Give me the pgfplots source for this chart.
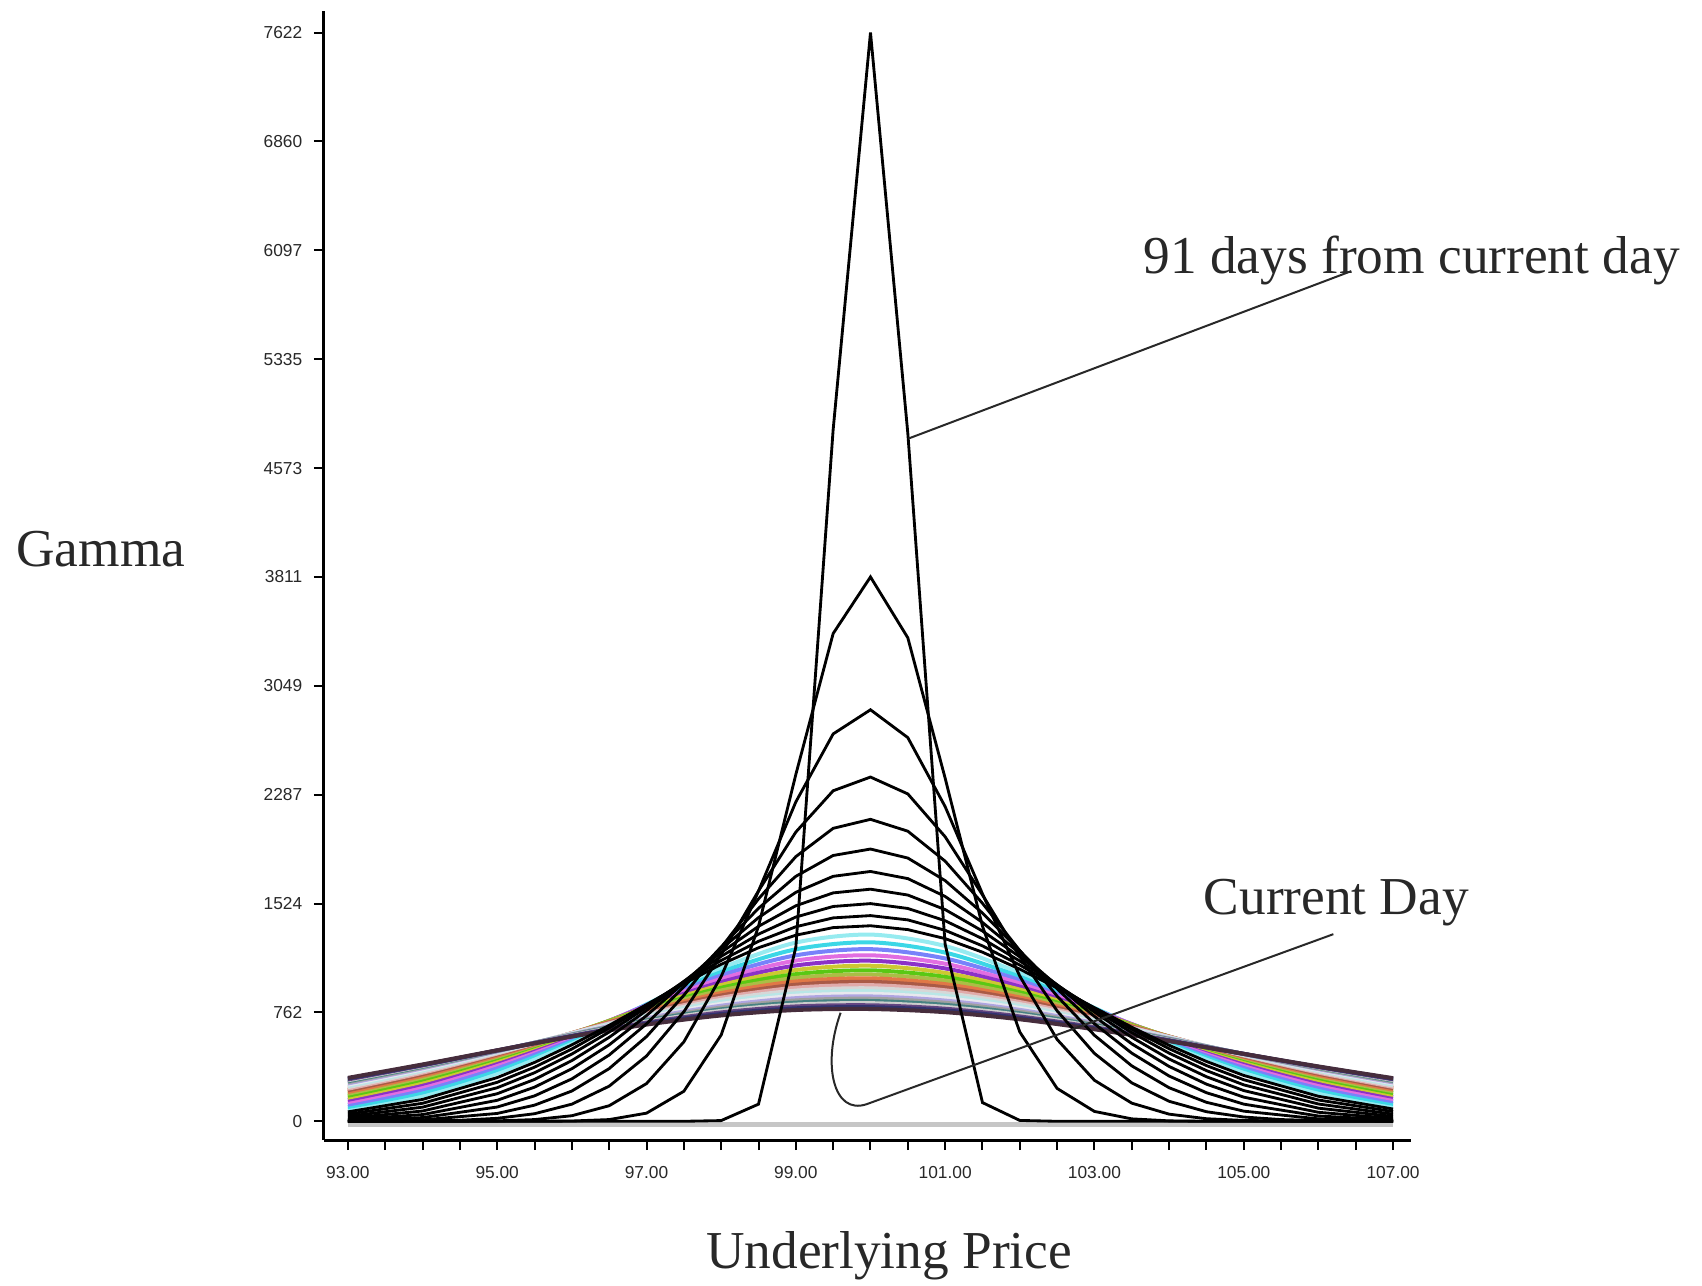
\documentclass[border=0pt]{standalone}
\usepackage{fontspec}
\setmainfont{Liberation Serif}
\newfontfamily\tickfont{Liberation Sans}
\usepackage{pgfplots}
\usepackage{pgfplotstable}
\pgfplotsset{compat=1.18}

\definecolor{c34}{RGB}{150,235,240}
\definecolor{c37}{RGB}{60,215,230}
\definecolor{c40}{RGB}{120,130,250}
\definecolor{c43}{RGB}{225,110,225}
\definecolor{c46}{RGB}{140,50,200}
\definecolor{c49}{RGB}{205,200,50}
\definecolor{c52}{RGB}{90,200,20}
\definecolor{c55}{RGB}{170,190,70}
\definecolor{c58}{RGB}{225,120,70}
\definecolor{c61}{RGB}{170,90,70}
\definecolor{c64}{RGB}{225,170,170}
\definecolor{c67}{RGB}{215,215,215}
\definecolor{c70}{RGB}{185,230,230}
\definecolor{c73}{RGB}{232,232,238}
\definecolor{c76}{RGB}{175,165,225}
\definecolor{c79}{RGB}{160,160,160}
\definecolor{c82}{RGB}{70,130,130}
\definecolor{c85}{RGB}{205,205,205}
\definecolor{c88}{RGB}{100,70,130}
\definecolor{c91}{RGB}{50,50,110}
\definecolor{c94}{RGB}{70,45,60}
\definecolor{txt}{RGB}{40,40,40}

\pgfplotstableread{
x T34 T37 T40 T43 T46 T49 T52 T55 T58 T61 T64 T67 T70 T73 T76 T79 T82 T85 T88 T91 T94
93 83 100 117 134 150 165 179 193 205 217 228 239 248 257 265 273 280 287 293 299 304
94 178 202 224 244 262 278 293 307 319 330 340 349 357 364 371 377 382 387 391 394 398
95 335 360 382 401 417 430 442 452 460 468 474 479 483 486 489 492 493 495 496 496 497
96 557 574 587 597 604 610 614 616 617 617 617 616 615 613 610 608 605 602 599 596 593
97 819 817 814 808 802 795 787 779 771 762 754 746 737 729 721 713 706 698 691 684 677
98 1071 1045 1021 997 975 954 935 916 898 881 865 850 836 822 809 796 784 773 762 751 741
99 1251 1204 1162 1125 1091 1059 1030 1004 979 956 935 915 896 879 862 846 831 817 804 791 779
100 1307 1253 1205 1162 1124 1089 1057 1028 1001 976 953 931 911 892 874 858 842 827 812 799 786
101 1227 1181 1140 1103 1070 1039 1011 985 960 938 917 897 879 862 845 830 815 801 788 776 764
102 1038 1012 988 965 943 922 903 885 867 851 835 820 806 793 780 768 756 745 734 724 714
103 794 791 785 779 771 764 755 747 738 730 721 713 704 696 688 680 673 665 658 651 644
104 551 564 574 582 587 590 592 593 593 592 591 589 587 584 581 578 575 571 568 564 561
105 347 369 387 403 416 427 437 444 451 456 460 464 466 469 470 471 472 472 472 472 472
106 199 222 242 260 276 290 303 314 324 333 341 348 355 360 365 369 373 376 379 382 384
107 105 122 140 156 171 185 198 210 222 232 241 250 258 266 272 278 284 289 294 298 302
}\colored

\begin{document}
\begin{tikzpicture}
\begin{axis}[
  at={(0,0)}, anchor=south west,
  scale only axis, width=326.1pt, height=338.7pt,
  xmin=92.68, xmax=107.24, ymin=-131, ymax=7773,
  axis lines=left,
  axis line style={-, line width=0.9pt, black},
  xtick={93,95,97,99,101,103,105,107},
  xticklabels={93.00,95.00,97.00,99.00,101.00,103.00,105.00,107.00},
  minor x tick num=3,
  ytick={0,762,1524,2287,3049,3811,4573,5335,6097,6860,7622},
  yticklabels={0,762,1524,2287,3049,3811,4573,5335,6097,6860,7622},
  tick align=outside,
  major tick length=3pt, minor tick length=3pt,
  every tick/.style={black, line width=0.6pt},
  ticklabel style={font=\tickfont\fontsize{5.2}{6}\selectfont, text=txt},
  xticklabel style={yshift=-1.5pt},
  clip=false,
]
\addplot[gray!45, line width=1.4pt] coordinates {(93,-22) (107,-22)};

\addplot[c34, line width=1.2pt, smooth] table[x=x, y=T34] {\colored};
\addplot[c37, line width=1.2pt, smooth] table[x=x, y=T37] {\colored};
\addplot[c40, line width=1.2pt, smooth] table[x=x, y=T40] {\colored};
\addplot[c43, line width=1.2pt, smooth] table[x=x, y=T43] {\colored};
\addplot[c46, line width=1.2pt, smooth] table[x=x, y=T46] {\colored};
\addplot[c49, line width=1.2pt, smooth] table[x=x, y=T49] {\colored};
\addplot[c52, line width=1.2pt, smooth] table[x=x, y=T52] {\colored};
\addplot[c55, line width=1.2pt, smooth] table[x=x, y=T55] {\colored};
\addplot[c58, line width=1.2pt, smooth] table[x=x, y=T58] {\colored};
\addplot[c61, line width=1.2pt, smooth] table[x=x, y=T61] {\colored};
\addplot[c64, line width=1.2pt, smooth] table[x=x, y=T64] {\colored};
\addplot[c67, line width=1.2pt, smooth] table[x=x, y=T67] {\colored};
\addplot[c70, line width=1.2pt, smooth] table[x=x, y=T70] {\colored};
\addplot[c73, line width=1.2pt, smooth] table[x=x, y=T73] {\colored};
\addplot[c76, line width=1.2pt, smooth] table[x=x, y=T76] {\colored};
\addplot[c79, line width=1.2pt, smooth] table[x=x, y=T79] {\colored};
\addplot[c82, line width=1.2pt, smooth] table[x=x, y=T82] {\colored};
\addplot[c85, line width=1.2pt, smooth] table[x=x, y=T85] {\colored};
\addplot[c88, line width=1.2pt, smooth] table[x=x, y=T88] {\colored};
\addplot[c91, line width=1.2pt, smooth] table[x=x, y=T91] {\colored};
\addplot[c94, line width=1.2pt, smooth] table[x=x, y=T94] {\colored};

% black curves (near expiry)
\addplot[black, line width=0.85pt] coordinates {(93,66) (94,153) (95,306) (95.5,412) (96,535) (96.5,672) (97,817) (97.5,963) (98,1099) (98.5,1215) (99,1303) (99.5,1356) (100,1369) (100.5,1342) (101,1279) (101.5,1184) (102,1065) (102.5,933) (103,795) (103.5,659) (104,532) (104.5,419) (105,321) (106,175) (107,86)};
\addplot[black, line width=0.85pt] coordinates {(93,50) (94,126) (95,273) (95.5,379) (96,506) (96.5,653) (97,811) (97.5,973) (98,1126) (98.5,1260) (99,1362) (99.5,1424) (100,1440) (100.5,1410) (101,1337) (101.5,1228) (102,1094) (102.5,944) (103,791) (103.5,644) (104,508) (104.5,390) (105,291) (106,149) (107,68)};
\addplot[black, line width=0.85pt] coordinates {(93,35) (94,99) (95,235) (95.5,340) (96,471) (96.5,625) (97,798) (97.5,979) (98,1155) (98.5,1310) (99,1430) (99.5,1504) (100,1524) (100.5,1490) (101,1404) (101.5,1278) (102,1122) (102.5,953) (103,782) (103.5,621) (104,477) (104.5,355) (105,255) (106,121) (107,50)};
\addplot[black, line width=0.85pt] coordinates {(93,22) (94,72) (95,193) (95.5,293) (96,425) (96.5,588) (97,776) (97.5,979) (98,1182) (98.5,1365) (99,1509) (99.5,1599) (100,1625) (100.5,1584) (101,1482) (101.5,1332) (102,1151) (102.5,956) (103,764) (103.5,588) (104,436) (104.5,312) (105,215) (106,92) (107,34)};
\addplot[black, line width=0.85pt] coordinates {(93,12) (94,47) (95,147) (95.5,239) (96,368) (96.5,535) (97,740) (97.5,969) (98,1206) (98.5,1426) (99,1603) (99.5,1715) (100,1749) (100.5,1699) (101,1574) (101.5,1392) (102,1176) (102.5,950) (103,734) (103.5,542) (104,384) (104.5,260) (105,169) (106,63) (107,20)};
\addplot[black, line width=0.85pt] coordinates {(93,5) (94,26) (95,100) (95.5,178) (96,297) (96.5,464) (97,682) (97.5,941) (98,1221) (98.5,1491) (99,1715) (99.5,1861) (100,1906) (100.5,1843) (101,1685) (101.5,1458) (102,1194) (102.5,927) (103,683) (103.5,477) (104,317) (104.5,200) (105,120) (106,37) (107,10)};
\addplot[black, line width=0.85pt] coordinates {(93,1) (94,10) (95,55) (95.5,113) (96,212) (96.5,369) (97,593) (97.5,882) (98,1216) (98.5,1557) (99,1853) (99.5,2051) (100,2114) (100.5,2031) (101,1821) (101.5,1526) (102,1195) (102.5,876) (103,602) (103.5,388) (104,235) (104.5,133) (105,71) (106,17) (107,3)};
\addplot[black, line width=0.85pt] coordinates {(93,0) (93.5,1) (94,2) (94.5,7) (95,21) (95.5,53) (96,120) (96.5,246) (97,457) (97.5,767) (98,1168) (98.5,1613) (99,2025) (99.5,2314) (100,2410) (100.5,2292) (101,1992) (101.5,1585) (102,1155) (102.5,773) (103,475) (103.5,269) (104,140) (104.5,67) (105,30) (105.5,12) (106,5) (106.5,2) (107,1)};
\addplot[black, line width=0.85pt] coordinates {(93,0) (94,0) (94.5,1) (95,3) (95.5,12) (96,39) (96.5,109) (97,264) (97.5,556) (98,1014) (98.5,1612) (99,2236) (99.5,2712) (100,2881) (100.5,2686) (101,2203) (101.5,1592) (102,1016) (102.5,573) (103,287) (103.5,127) (104,50) (104.5,18) (105,6) (105.5,2) (106,0) (107,0)};
\addplot[black, line width=0.85pt] coordinates {(93,0) (95.5,0) (96,2) (96.5,12) (97,57) (97.5,210) (98,604) (98.5,1365) (99,2428) (99.5,3415) (100,3811) (100.5,3385) (101,2402) (101.5,1366) (102,625) (102.5,230) (103,69) (103.5,17) (104,3) (104.5,0) (107,0)};
\addplot[black, line width=0.85pt] coordinates {(93,0) (97.5,0) (98,5) (98.5,120) (99,1219) (99.5,4843) (100,7622) (100.5,4817) (101,1239) (101.5,131) (102,6) (102.5,0) (107,0)};

% annotations
\draw[txt, line width=0.6pt] (axis cs:100.51,4780) -- (axis cs:106.44,5952);
\draw[txt, line width=0.6pt] (axis cs:99.6,760) .. controls (axis cs:99.35,400) and (axis cs:99.5,40) .. (axis cs:99.95,120) -- (axis cs:106.2,1310);
\node[anchor=base west, inner sep=0, text=txt, font=\fontsize{16}{19}\selectfont] at (axis cs:103.65,5935) {91 days from current day};
\node[anchor=base west, inner sep=0, text=txt, font=\fontsize{16}{19}\selectfont] at (axis cs:104.455,1451) {Current Day};
\node[anchor=base west, inner sep=0, text=txt, font=\fontsize{16}{19}\selectfont] at (axis cs:88.55,3883) {Gamma};
\node[anchor=base west, inner sep=0, text=txt, font=\fontsize{16}{19}\selectfont] at (axis cs:97.79,-1030) {Underlying Price};
\end{axis}
\pgfresetboundingbox
\path (-97.2pt,-43.5pt) rectangle (413.4pt,342.0pt);
\end{tikzpicture}
\end{document}
